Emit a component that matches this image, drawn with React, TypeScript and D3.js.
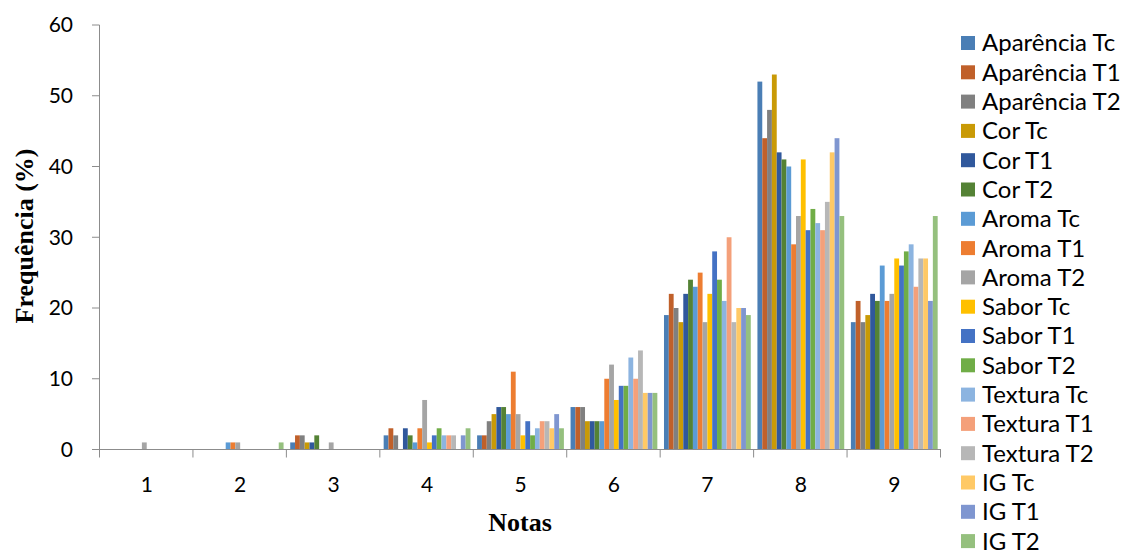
import { useMemo } from 'react'
import { scaleBand, scaleLinear } from 'd3'

const categories = ['1', '2', '3', '4', '5', '6', '7', '8', '9']

const seriesNames = [
  'Aparência Tc', 'Aparência T1', 'Aparência T2',
  'Cor Tc', 'Cor T1', 'Cor T2',
  'Aroma Tc', 'Aroma T1', 'Aroma T2',
  'Sabor Tc', 'Sabor T1', 'Sabor T2',
  'Textura Tc', 'Textura T1', 'Textura T2',
  'IG Tc', 'IG T1', 'IG T2',
]

// one row per series, one value per nota (1..9)
const aparencia = [
  [0, 0, 1, 2, 2, 6, 19, 52, 18],
  [0, 0, 2, 3, 2, 6, 22, 44, 21],
  [0, 0, 2, 2, 4, 6, 20, 48, 18],
]
const cor = [
  [0, 0, 1, 0, 5, 4, 18, 53, 19],
  [0, 0, 1, 3, 6, 4, 22, 42, 22],
  [0, 0, 2, 2, 6, 4, 24, 41, 21],
]
const aroma = [
  [0, 1, 0, 1, 5, 4, 23, 40, 26],
  [0, 1, 0, 3, 11, 10, 25, 29, 21],
  [1, 1, 1, 7, 5, 12, 18, 33, 22],
]
const sabor = [
  [0, 0, 0, 1, 2, 7, 22, 41, 27],
  [0, 0, 0, 2, 4, 9, 28, 31, 26],
  [0, 0, 0, 3, 2, 9, 24, 34, 28],
]
const textura = [
  [0, 0, 0, 2, 3, 13, 21, 32, 29],
  [0, 0, 0, 2, 4, 10, 30, 31, 23],
  [0, 0, 0, 2, 4, 14, 18, 35, 27],
]
const ig = [
  [0, 0, 0, 0, 3, 8, 20, 42, 27],
  [0, 0, 0, 2, 5, 8, 20, 44, 21],
  [0, 1, 0, 3, 3, 8, 19, 33, 33],
]

const yTicks = [0, 10, 20, 30, 40, 50, 60]

const colors = [
  '#4a7eb5', '#c0602a', '#808080', '#c99a06', '#30589c', '#548235',
  '#5b9bd5', '#ed7d31', '#a5a5a5', '#ffc000', '#4472c4', '#70ad47',
  '#8cb4e0', '#f4a07a', '#b7b7b7', '#ffc966', '#7f96d0', '#95c07e',
]

const W = 1126
const H = 553
const left = 100
const right = 941
const top = 25
const bottom = 449.5
const axisColor = '#8c8c8c'
const sans = 'Lato, "Open Sans", sans-serif'
const serif = '"Liberation Serif", "Times New Roman", serif'

export default function App() {
  const values = useMemo(() => [...aparencia, ...cor, ...aroma, ...sabor, ...textura, ...ig], [])

  const x0 = scaleBand<string>().domain(categories).range([left, right])
  const x1 = scaleBand<string>()
    .domain(seriesNames)
    .range([0, x0.bandwidth()])
    .paddingOuter(0.69)
  const y = scaleLinear().domain([0, 60]).range([bottom, top])

  return (
    <svg
      width={W}
      height={H}
      viewBox={`0 0 ${W} ${H}`}
      style={{ position: 'absolute', left: 0, top: 0, background: '#fff' }}
    >
      {/* bars */}
      {seriesNames.map((s, si) => (
        <g key={s} fill={colors[si]}>
          {categories.map((c, ci) => {
            const v = values[si][ci]
            if (!v) return null
            return (
              <rect
                key={c}
                x={(x0(c) ?? 0) + (x1(s) ?? 0)}
                y={y(v)}
                width={x1.bandwidth()}
                height={y(0) - y(v)}
              />
            )
          })}
        </g>
      ))}

      {/* y axis */}
      <line x1={left - 0.5} x2={left - 0.5} y1={top} y2={bottom} stroke={axisColor} />
      {yTicks.map((t) => (
        <g key={t}>
          <line x1={left - 8} x2={left - 0.5} y1={y(t)} y2={y(t)} stroke={axisColor} />
          <text
            x={73}
            y={y(t)}
            dy="0.35em"
            textAnchor="end"
            fontFamily={sans}
            fontSize={21}
            fill="#000"
          >
            {t}
          </text>
        </g>
      ))}

      {/* x axis */}
      <line x1={left - 8} x2={right} y1={bottom} y2={bottom} stroke={axisColor} />
      {[...categories.map((c) => x0(c) ?? 0), right].map((px, i) => (
        <line key={i} x1={px - 0.5} x2={px - 0.5} y1={bottom} y2={bottom + 8} stroke={axisColor} />
      ))}
      {categories.map((c) => (
        <text
          key={c}
          x={(x0(c) ?? 0) + x0.bandwidth() / 2}
          y={492}
          textAnchor="middle"
          fontFamily={sans}
          fontSize={21}
          fill="#000"
        >
          {c}
        </text>
      ))}

      {/* axis titles */}
      <text
        x={520}
        y={531}
        textAnchor="middle"
        fontFamily={serif}
        fontWeight="bold"
        fontSize={26}
      >
        Notas
      </text>
      <text
        transform={`translate(33, 236) rotate(-90)`}
        textAnchor="middle"
        fontFamily={serif}
        fontWeight="bold"
        fontSize={26}
      >
        Frequência (%)
      </text>

      {/* legend */}
      {seriesNames.map((s, i) => {
        const cy = 43 + i * 29.3
        return (
          <g key={s}>
            <rect x={961} y={cy - 7} width={14} height={14} fill={colors[i]} />
            <text x={982} y={cy} dy="0.35em" fontFamily={sans} fontSize={24} fill="#000">
              {s}
            </text>
          </g>
        )
      })}
    </svg>
  )
}
